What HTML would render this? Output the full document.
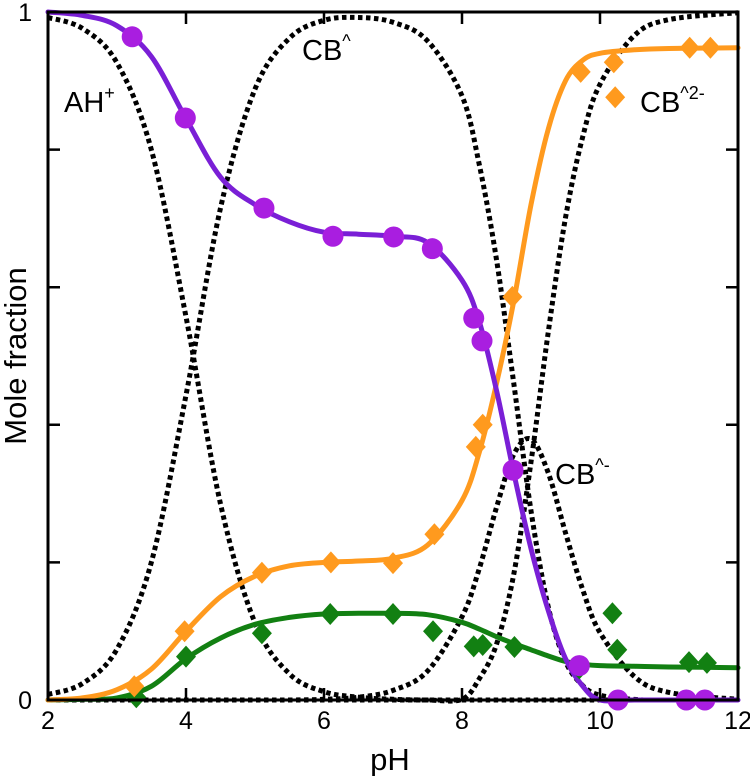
<!DOCTYPE html>
<html><head><meta charset="utf-8"><style>
html,body{margin:0;padding:0;background:#fff;}
svg{display:block;font-family:"Liberation Sans",sans-serif;}
</style></head><body>
<svg id="chart" width="750" height="776" viewBox="0 0 750 776">
<g id="curves"></g>
<g id="marks"></g>
<g id="axes"></g>
<text x="64" y="112" font-size="29">AH<tspan font-size="18" dy="-13">+</tspan></text>
<text x="302" y="60" font-size="29">CB<tspan font-size="18" dy="-13">^</tspan></text>
<text x="555" y="484" font-size="29">CB<tspan font-size="18" dy="-13">^-</tspan></text>
<text x="640" y="112" font-size="29">CB<tspan font-size="18" dy="-13">^2-</tspan></text>
<text x="390" y="770" font-size="31" text-anchor="middle">pH</text>
<text transform="translate(26,356) rotate(-90)" font-size="31" text-anchor="middle">Mole fraction</text>
</svg>
<script>
const pHGrid=[2,2.5,3,3.5,4,4.5,5,5.5,6,6.5,7,7.5,8,8.25,8.5,8.75,9,9.25,9.5,9.75,10,10.5,11,12];
const fitPurple=[1,.995,.98,.935,.845,.76,.72,.695,.68,.677,.674,.665,.61,.55,.45,.33,.22,.13,.06,.02,0,0,0,0];
const fitOrange=[0,.003,.015,.045,.1,.15,.18,.195,.2,.202,.206,.225,.29,.36,.46,.58,.72,.83,.9,.93,.94,.945,.947,.948];
const fitGreen=[0,.001,.003,.02,.06,.09,.11,.12,.125,.126,.126,.124,.113,.103,.092,.082,.073,.064,.056,.052,.05,.049,.048,.047];
const specAH=[.992,.976,.926,.799,.557,.285,.112,.038,.012,.004,.001,0,0,0,0,0,0,0,0,0,0,0,0,0];
const specCB=[.008,.024,.074,.201,.443,.715,.888,.962,.988,.992,.985,.958,.878,.778,.64,.46,.275,.135,.056,.021,.007,.0008,0,0];
const specCBm=[0,0,0,0,0,0,0,0,.001,.004,.014,.042,.121,.191,.28,.357,.379,.33,.243,.16,.098,.034,.011,.001];
const specCB2m=[0,0,0,0,0,0,0,0,0,0,0,0,.001,.031,.081,.183,.346,.535,.701,.819,.895,.966,.989,.999];
const purplePH=[3.22,3.99,5.13,6.13,7.01,7.57,8.17,8.29,8.74,9.7,10.26,11.25,11.52];
const purpleY=[.964,.846,.715,.674,.673,.656,.555,.522,.334,.05,0,0,0];
const orangePH=[3.25,3.98,5.1,6.1,7.0,7.6,8.2,8.3,8.73,9.72,10.2,10.22,11.3,11.6];
const orangeY=[.02,.1,.185,.2,.199,.241,.368,.4,.586,.913,.927,.876,.948,.948];
const greenPH=[3.28,4.0,5.1,6.09,7.0,7.58,8.17,8.3,8.76,9.7,10.18,10.25,11.29,11.55];
const greenY=[.004,.063,.097,.125,.125,.1,.078,.08,.077,.046,.126,.073,.055,.054];
const xTicks=[2,4,6,8,10,12];
const yTicks=[0,0.2,0.4,0.6,0.8,1];
const yTickLabels=["0","","","","","1"];

const X0=48,X1=738,Y0=700,Y1=12;
const sx=v=>X0+(v-2)/10*(X1-X0);
const sy=v=>Y0-v*(Y0-Y1);
const NS="http://www.w3.org/2000/svg";
function mk(tag,attrs,parent){const e=document.createElementNS(NS,tag);for(const k in attrs)e.setAttribute(k,attrs[k]);parent.appendChild(e);return e;}
function smooth(xs,ys){
  const p=xs.map((x,i)=>[sx(x),sy(ys[i])]);
  let d="M"+p[0][0].toFixed(1)+","+p[0][1].toFixed(1);
  for(let i=0;i<p.length-1;i++){
    const a=p[Math.max(0,i-1)],b=p[i],c=p[i+1],e=p[Math.min(p.length-1,i+2)];
    const c1x=b[0]+(c[0]-a[0])/6,c1y=b[1]+(c[1]-a[1])/6;
    const c2x=c[0]-(e[0]-b[0])/6,c2y=c[1]-(e[1]-b[1])/6;
    d+=" C"+c1x.toFixed(1)+","+c1y.toFixed(1)+" "+c2x.toFixed(1)+","+c2y.toFixed(1)+" "+c[0].toFixed(1)+","+c[1].toFixed(1);
  }
  return d;
}
const curves=document.getElementById('curves');
const marks=document.getElementById('marks');
const axes=document.getElementById('axes');
const spec=[[specAH,'ah-plus'],[specCB,'cb'],[specCBm,'cb-minus'],[specCB2m,'cb-2minus']];
spec.forEach(s=>{
  const el=mk('path',{d:smooth(pHGrid,s[0]),fill:'none',stroke:'#000','stroke-width':5,'stroke-dasharray':'4.5,3.5'},curves);
  
  
});
const fits=[[fitGreen,'#128012','green'],[fitOrange,'#ff9a1e','orange'],[fitPurple,'#7a1fd6','purple']];
fits.forEach(f=>{
  const el=mk('path',{d:smooth(pHGrid,f[0]),fill:'none',stroke:f[1],'stroke-width':5,'stroke-linecap':'round'},curves);
  
  
});
greenPH.forEach((x,i)=>{
  const cx=sx(x),cy=sy(greenY[i]);
  const el=mk('polygon',{points:`${cx},${cy-11} ${cx+10},${cy} ${cx},${cy+11} ${cx-10},${cy}`,fill:'#128012'},marks);
  
  
});
orangePH.forEach((x,i)=>{
  const cx=sx(x),cy=sy(orangeY[i]);
  const el=mk('polygon',{points:`${cx},${cy-11} ${cx+10},${cy} ${cx},${cy+11} ${cx-10},${cy}`,fill:'#ff9a1e'},marks);
  
  
});
purplePH.forEach((x,i)=>{
  const el=mk('circle',{cx:sx(x),cy:sy(purpleY[i]),r:10.5,fill:'#a91ee0'},marks);
  
  
});
const frame=mk('rect',{x:X0,y:Y1,width:X1-X0,height:Y0-Y1,fill:'none',stroke:'#000','stroke-width':3},axes);


xTicks.forEach(t=>{
  const x=sx(t);
  const tk=mk('path',{d:`M${x},${Y0} V${Y0-12} M${x},${Y1} V${Y1+12}`,stroke:'#000','stroke-width':2.5},axes);
  
  
  const lb=mk('text',{x:x,y:Y0+29,'font-size':25,'text-anchor':'middle'},axes);
  lb.textContent=String(t);
  
  
});
yTicks.forEach((t,i)=>{
  const y=sy(t);
  const tk=mk('path',{d:`M${X0},${y} H${X0+12} M${X1},${y} H${X1-12}`,stroke:'#000','stroke-width':2.5},axes);
  
  
  if(yTickLabels[i]){
    const lb=mk('text',{x:X0-16,y:y+9,'font-size':25,'text-anchor':'end'},axes);
    lb.textContent=yTickLabels[i];
    
    
  }
});
</script>
</body></html>
